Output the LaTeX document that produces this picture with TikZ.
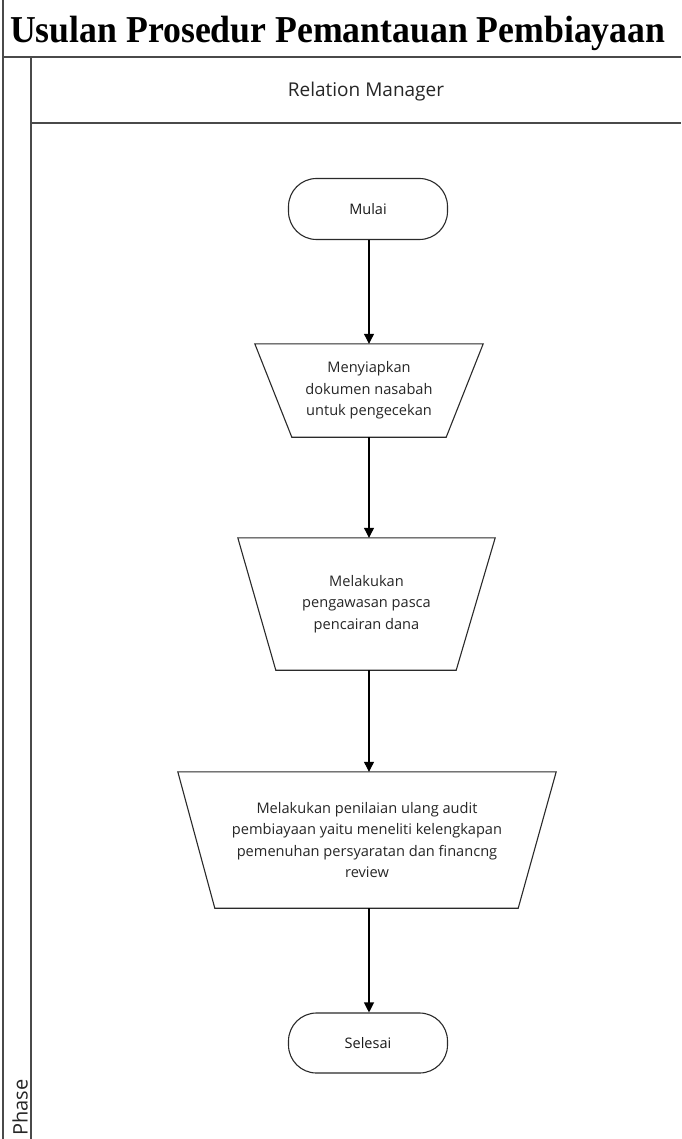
\documentclass[tikz,border=0pt]{standalone}
\usepackage{fontspec}
\setmainfont{Open Sans}
\newfontfamily\titlefont{Liberation Serif}
\usetikzlibrary{arrows.meta}
\definecolor{frameline}{HTML}{4A4A4A}
\definecolor{shapeline}{HTML}{2A2A2A}
\tikzset{
  frame/.style={draw=frameline, line width=2pt},
  terminal/.style={draw=shapeline, line width=1.1pt, rounded corners=28pt,
    minimum width=159pt, minimum height=61pt, font=\fontsize{14.5}{17}\selectfont, text=black!90},
  procbox/.style={draw=none, align=center, font=\fontsize{14.6}{21.5}\selectfont, text=black!85},
  procedge/.style={draw=shapeline, line width=1.1pt},
  flow/.style={draw=black, line width=1.1pt, -{Triangle[length=10pt,width=10pt]}},
}
\begin{document}
\begin{tikzpicture}[x=1pt, y=-1pt]
\useasboundingbox (0,0) rectangle (681,1139);
\fill[white] (0,0) rectangle (681,1139);

% pool and lane frame
\coordinate (tl) at (3,0);
\coordinate (bl) at (3,1139);
\draw[frame] (tl) -- (bl);
\draw[frame] (3,57) -- (681,57);
\draw[frame] (31,57) -- (31,1139);
\draw[frame] (31,123) -- (681,123);

% titles
\node[anchor=base west, inner sep=0, font=\titlefont\bfseries\fontsize{38}{44}\selectfont] (title) at (10,43) {\scalebox{0.94}[1]{Usulan Prosedur Pemantauan Pembiayaan}};
\node[font=\fontsize{19}{22}\selectfont, text=black!85] (lane) at (366,92) {Relation Manager};
\node[rotate=90, anchor=south west, inner sep=0, font=\fontsize{20}{24}\selectfont, text=black!85] (phase) at (28,1136) {Phase};

% flow nodes
\node[terminal] (start) at (368,209) {Mulai};

\node[procbox, minimum width=228pt, minimum height=93pt] (p1) at (369,390.5)
  {Menyiapkan\\dokumen nasabah\\untuk pengecekan};
\draw[procedge] (p1.north west) -- (p1.north east) -- ([xshift=-37pt]p1.south east) -- ([xshift=37pt]p1.south west) -- cycle;

\node[procbox, minimum width=257pt, minimum height=132pt] (p2) at (366.5,604)
  {Melakukan\\pengawasan pasca\\pencairan dana};
\draw[procedge] (p2.north west) -- (p2.north east) -- ([xshift=-39pt]p2.south east) -- ([xshift=38pt]p2.south west) -- cycle;

\node[procbox, minimum width=378pt, minimum height=136pt] (p3) at (367,840)
  {Melakukan penilaian ulang audit\\pembiayaan yaitu meneliti kelengkapan\\pemenuhan persyaratan dan financng\\review};
\draw[procedge] (p3.north west) -- (p3.north east) -- ([xshift=-38pt]p3.south east) -- ([xshift=37pt]p3.south west) -- cycle;

\node[terminal, minimum height=60pt] (stop) at (368,1043) {Selesai};

% connectors
\draw[flow] (start.south -| p1.north) -- (p1.north);
\draw[flow] (p1.south) -- (p2.north -| p1.south);
\draw[flow] (p2.south -| p1.south) -- (p3.north -| p1.south);
\draw[flow] (p3.south -| p1.south) -- (stop.north -| p1.south);
\end{tikzpicture}
\end{document}
